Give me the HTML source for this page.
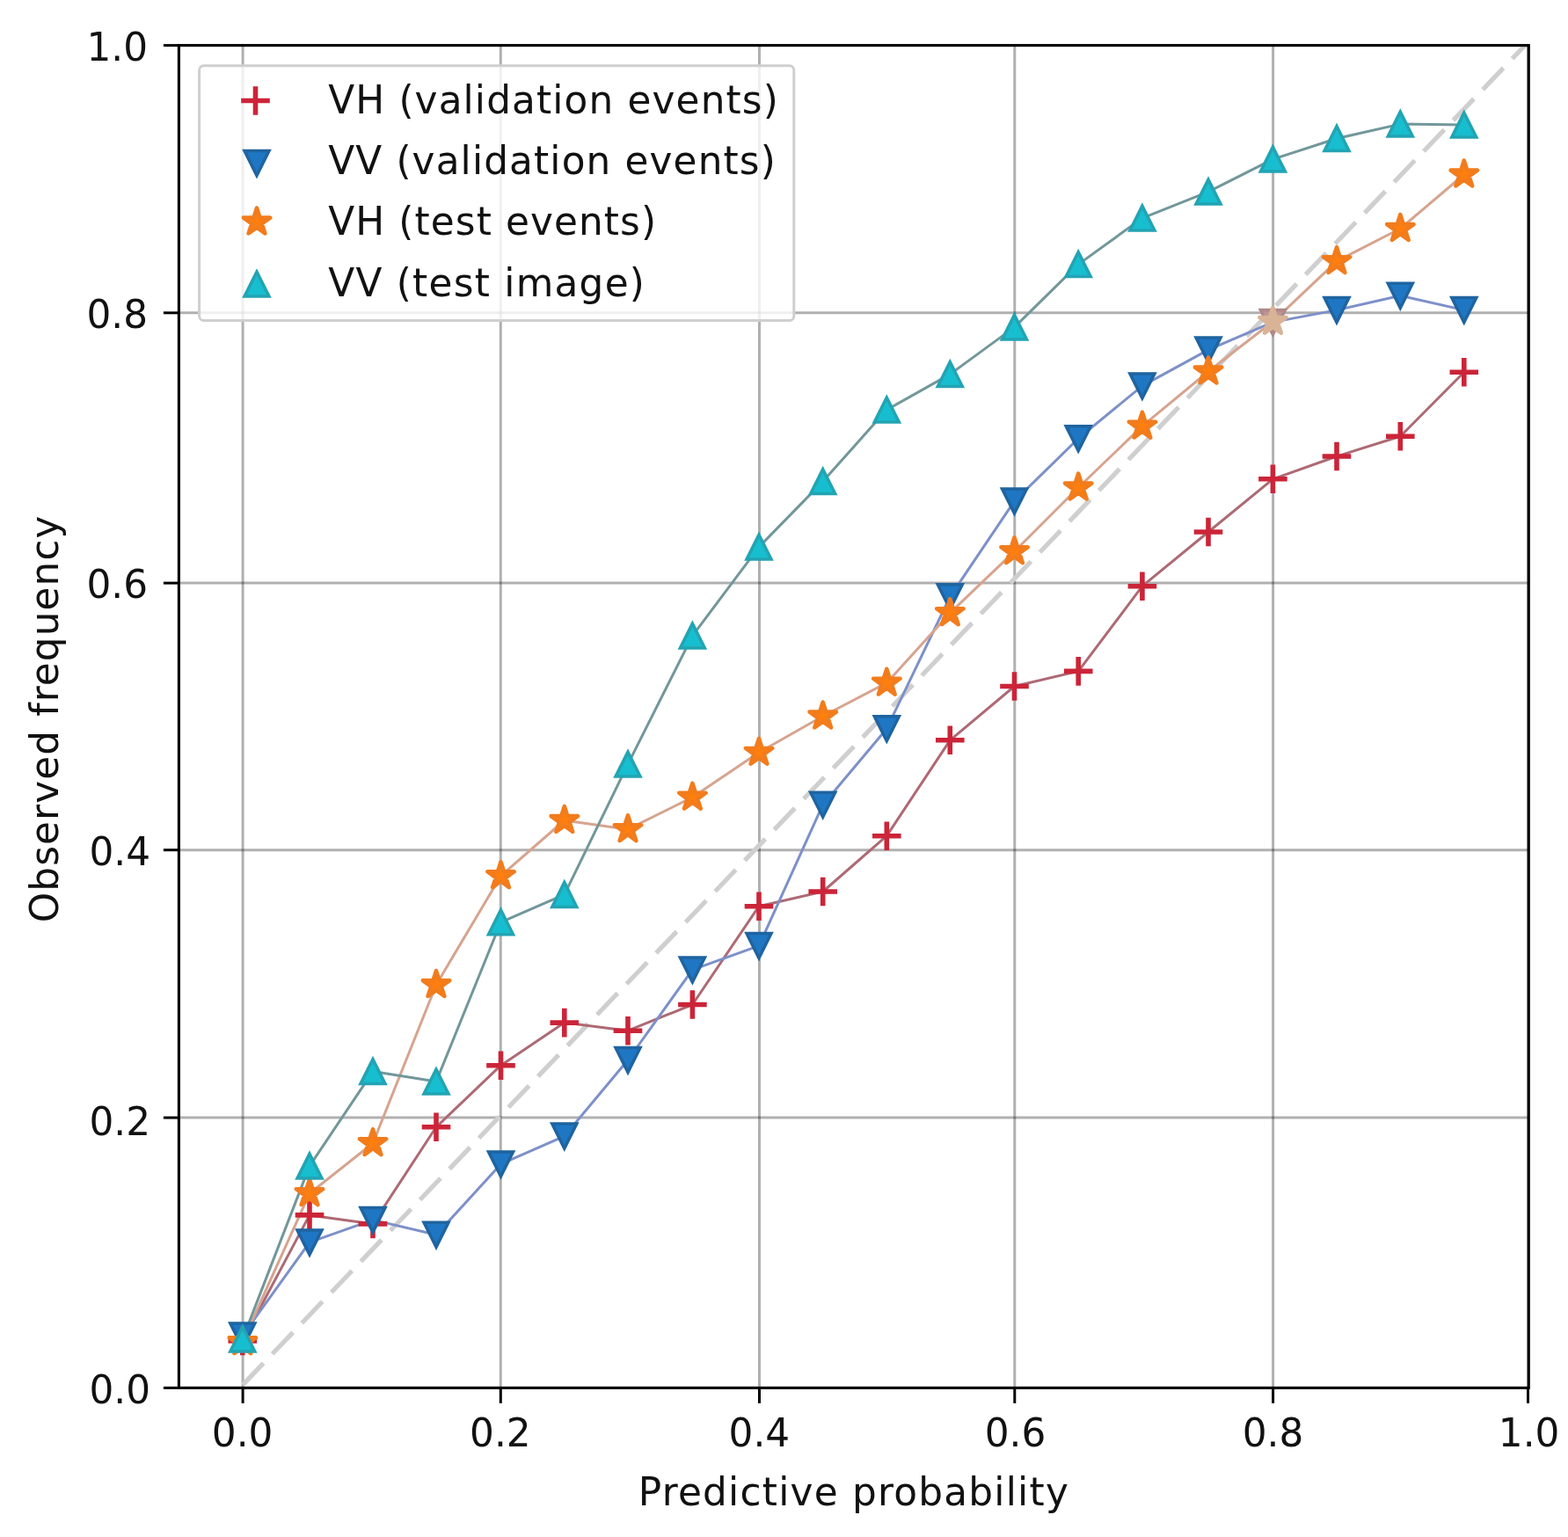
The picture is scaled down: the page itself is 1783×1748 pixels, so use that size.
<!DOCTYPE html>
<html><head><meta charset="utf-8"><title>Calibration plot</title>
<style>
html,body{margin:0;padding:0;background:#fff;}
svg{display:block;}
text{font-family:"DejaVu Sans","Liberation Sans",sans-serif;fill:#111;}
</style></head><body>
<svg width="1783" height="1748" viewBox="0 0 1783 1748">
<rect x="0" y="0" width="1783" height="1748" fill="#fff"/>

<g stroke="#000" stroke-opacity="0.31" stroke-width="3"><line x1="276.1" y1="51.6" x2="276.1" y2="1578.4"/><line x1="569.3" y1="51.6" x2="569.3" y2="1578.4"/><line x1="863.5" y1="51.6" x2="863.5" y2="1578.4"/><line x1="1153.8" y1="51.6" x2="1153.8" y2="1578.4"/><line x1="1447.6" y1="51.6" x2="1447.6" y2="1578.4"/><line x1="1737.5" y1="51.6" x2="1737.5" y2="1578.4"/><line x1="203.4" y1="1578.4" x2="1738.3" y2="1578.4"/><line x1="203.4" y1="1271.1" x2="1738.3" y2="1271.1"/><line x1="203.4" y1="966.7" x2="1738.3" y2="966.7"/><line x1="203.4" y1="663.1" x2="1738.3" y2="663.1"/><line x1="203.4" y1="355.8" x2="1738.3" y2="355.8"/><line x1="203.4" y1="51.6" x2="1738.3" y2="51.6"/></g>
<defs><clipPath id="ax"><rect x="203.4" y="51.6" width="1534.9" height="1526.8"/></clipPath></defs>
<line clip-path="url(#ax)" x1="276.1" y1="1574.9" x2="1737.5" y2="48.1" stroke="#cfcfcf" stroke-width="5.2" stroke-dasharray="33.9 14.65"/>
<polyline points="275.8,1525.0 352.0,1381.9 424.0,1391.9 496.0,1281.8 569.5,1211.7 641.8,1163.1 714.0,1172.2 787.4,1142.5 863.0,1030.7 935.7,1014.0 1008.3,950.7 1080.3,841.8 1153.5,780.5 1226.2,763.4 1298.9,666.7 1374.0,605.0 1447.4,544.8 1520.0,519.0 1592.3,496.2 1664.8,423.2" fill="none" stroke="#ad6a74" stroke-width="3.0" stroke-linejoin="round" stroke-linecap="round"/>
<polyline points="275.8,1518.9 352.0,1412.9 424.0,1387.4 496.0,1404.3 569.5,1323.9 641.8,1292.1 714.0,1205.5 787.4,1102.9 863.0,1075.6 935.7,915.2 1008.3,828.7 1080.3,678.7 1153.5,569.9 1226.2,498.7 1298.9,438.9 1374.0,397.9 1447.4,366.4 1520.0,352.6 1592.3,336.3 1664.8,352.6" fill="none" stroke="#7d90c8" stroke-width="3.0" stroke-linejoin="round" stroke-linecap="round"/>
<polyline points="275.8,1526.2 352.0,1357.2 424.0,1300.2 496.0,1120.0 569.5,996.2 641.8,933.0 714.0,943.2 787.4,906.7 863.0,855.8 935.7,814.5 1008.3,776.7 1080.3,697.2 1153.5,627.2 1226.2,554.5 1298.9,484.7 1374.0,422.5 1447.4,365.8 1520.0,297.1 1592.3,260.0 1664.8,198.5" fill="none" stroke="#d6a48f" stroke-width="3.0" stroke-linejoin="round" stroke-linecap="round"/>
<polyline points="275.8,1523.1 352.0,1326.1 424.0,1218.6 496.0,1230.1 569.5,1048.8 641.8,1017.4 714.0,869.1 787.4,723.1 863.0,622.1 935.7,547.6 1008.3,466.1 1080.3,425.6 1153.5,372.1 1226.2,300.6 1298.9,248.1 1374.0,218.1 1447.4,181.1 1520.0,157.5 1592.3,141.1 1664.8,142.1" fill="none" stroke="#72979a" stroke-width="3.0" stroke-linejoin="round" stroke-linecap="round"/>
<path d="M259.5,1525.0H292.1M275.8,1508.7V1541.3M335.7,1381.9H368.3M352.0,1365.6V1398.2M407.7,1391.9H440.3M424.0,1375.6V1408.2M479.7,1281.8H512.3M496.0,1265.5V1298.1M553.2,1211.7H585.8M569.5,1195.4V1228.0M625.5,1163.1H658.1M641.8,1146.8V1179.4M697.7,1172.2H730.3M714.0,1155.9V1188.5M771.1,1142.5H803.7M787.4,1126.2V1158.8M846.7,1030.7H879.3M863.0,1014.4V1047.0M919.4,1014.0H952.0M935.7,997.7V1030.3M992.0,950.7H1024.6M1008.3,934.4V967.0M1064.0,841.8H1096.6M1080.3,825.5V858.1M1137.2,780.5H1169.8M1153.5,764.2V796.8M1209.9,763.4H1242.5M1226.2,747.1V779.7M1282.6,666.7H1315.2M1298.9,650.4V683.0M1357.7,605.0H1390.3M1374.0,588.7V621.3M1431.1,544.8H1463.7M1447.4,528.5V561.1M1503.7,519.0H1536.3M1520.0,502.7V535.3M1576.0,496.2H1608.6M1592.3,479.9V512.5M1648.5,423.2H1681.1M1664.8,406.9V439.5" fill="none" stroke="#cc2438" stroke-width="5.6"/>
<path d="M275.8,1532.9L261.8,1504.9L289.8,1504.9ZM352.0,1426.9L338.0,1398.9L366.0,1398.9ZM424.0,1401.4L410.0,1373.4L438.0,1373.4ZM496.0,1418.3L482.0,1390.3L510.0,1390.3ZM569.5,1337.9L555.5,1309.9L583.5,1309.9ZM641.8,1306.1L627.8,1278.1L655.8,1278.1ZM714.0,1219.5L700.0,1191.5L728.0,1191.5ZM787.4,1116.9L773.4,1088.9L801.4,1088.9ZM863.0,1089.6L849.0,1061.6L877.0,1061.6ZM935.7,929.2L921.7,901.2L949.7,901.2ZM1008.3,842.7L994.3,814.7L1022.3,814.7ZM1080.3,692.7L1066.3,664.7L1094.3,664.7ZM1153.5,583.9L1139.5,555.9L1167.5,555.9ZM1226.2,512.7L1212.2,484.7L1240.2,484.7ZM1298.9,452.9L1284.9,424.9L1312.9,424.9ZM1374.0,411.9L1360.0,383.9L1388.0,383.9ZM1520.0,366.6L1506.0,338.6L1534.0,338.6ZM1592.3,350.3L1578.3,322.3L1606.3,322.3ZM1664.8,366.6L1650.8,338.6L1678.8,338.6Z" fill="#1f77c4" stroke="#1f64a0" stroke-width="3.5" stroke-linejoin="miter"/>
<path d="M1447.4,380.4L1433.4,352.4L1461.4,352.4Z" fill="#bf9698" stroke="#b08888" stroke-width="3.5" stroke-linejoin="miter"/>
<path d="M275.8,1510.2L272.2,1521.3L260.6,1521.3L270.0,1528.1L266.4,1539.1L275.8,1532.3L285.2,1539.1L281.6,1528.1L291.0,1521.3L279.4,1521.3ZM352.0,1341.2L348.4,1352.3L336.8,1352.3L346.2,1359.1L342.6,1370.1L352.0,1363.3L361.4,1370.1L357.8,1359.1L367.2,1352.3L355.6,1352.3ZM424.0,1284.2L420.4,1295.3L408.8,1295.3L418.2,1302.1L414.6,1313.1L424.0,1306.3L433.4,1313.1L429.8,1302.1L439.2,1295.3L427.6,1295.3ZM496.0,1104.0L492.4,1115.1L480.8,1115.1L490.2,1121.9L486.6,1132.9L496.0,1126.1L505.4,1132.9L501.8,1121.9L511.2,1115.1L499.6,1115.1ZM569.5,980.2L565.9,991.3L554.3,991.3L563.7,998.1L560.1,1009.1L569.5,1002.3L578.9,1009.1L575.3,998.1L584.7,991.3L573.1,991.3ZM641.8,917.0L638.2,928.1L626.6,928.1L636.0,934.9L632.4,945.9L641.8,939.1L651.2,945.9L647.6,934.9L657.0,928.1L645.4,928.1ZM714.0,927.2L710.4,938.3L698.8,938.3L708.2,945.1L704.6,956.1L714.0,949.3L723.4,956.1L719.8,945.1L729.2,938.3L717.6,938.3ZM787.4,890.7L783.8,901.8L772.2,901.8L781.6,908.6L778.0,919.6L787.4,912.8L796.8,919.6L793.2,908.6L802.6,901.8L791.0,901.8ZM863.0,839.8L859.4,850.9L847.8,850.9L857.2,857.7L853.6,868.7L863.0,861.9L872.4,868.7L868.8,857.7L878.2,850.9L866.6,850.9ZM935.7,798.5L932.1,809.6L920.5,809.6L929.9,816.4L926.3,827.4L935.7,820.6L945.1,827.4L941.5,816.4L950.9,809.6L939.3,809.6ZM1008.3,760.7L1004.7,771.8L993.1,771.8L1002.5,778.6L998.9,789.6L1008.3,782.8L1017.7,789.6L1014.1,778.6L1023.5,771.8L1011.9,771.8ZM1080.3,681.2L1076.7,692.3L1065.1,692.3L1074.5,699.1L1070.9,710.1L1080.3,703.3L1089.7,710.1L1086.1,699.1L1095.5,692.3L1083.9,692.3ZM1153.5,611.2L1149.9,622.3L1138.3,622.3L1147.7,629.1L1144.1,640.1L1153.5,633.3L1162.9,640.1L1159.3,629.1L1168.7,622.3L1157.1,622.3ZM1226.2,538.5L1222.6,549.6L1211.0,549.6L1220.4,556.4L1216.8,567.4L1226.2,560.6L1235.6,567.4L1232.0,556.4L1241.4,549.6L1229.8,549.6ZM1298.9,468.7L1295.3,479.8L1283.7,479.8L1293.1,486.6L1289.5,497.6L1298.9,490.8L1308.3,497.6L1304.7,486.6L1314.1,479.8L1302.5,479.8ZM1374.0,406.5L1370.4,417.6L1358.8,417.6L1368.2,424.4L1364.6,435.4L1374.0,428.6L1383.4,435.4L1379.8,424.4L1389.2,417.6L1377.6,417.6ZM1520.0,281.1L1516.4,292.2L1504.8,292.2L1514.2,299.0L1510.6,310.0L1520.0,303.2L1529.4,310.0L1525.8,299.0L1535.2,292.2L1523.6,292.2ZM1592.3,244.0L1588.7,255.1L1577.1,255.1L1586.5,261.9L1582.9,272.9L1592.3,266.1L1601.7,272.9L1598.1,261.9L1607.5,255.1L1595.9,255.1ZM1664.8,182.5L1661.2,193.6L1649.6,193.6L1659.0,200.4L1655.4,211.4L1664.8,204.6L1674.2,211.4L1670.6,200.4L1680.0,193.6L1668.4,193.6Z" fill="#ff7f0e" stroke="#f27c1c" stroke-width="4.5" stroke-linejoin="round"/>
<path d="M1447.4,349.8L1443.8,360.9L1432.2,360.9L1441.6,367.7L1438.0,378.7L1447.4,371.9L1456.8,378.7L1453.2,367.7L1462.6,360.9L1451.0,360.9Z" fill="#d9b396" stroke="#d9b396" stroke-width="4.5" stroke-linejoin="round"/>
<path d="M275.8,1509.1L261.8,1537.1L289.8,1537.1ZM352.0,1312.1L338.0,1340.1L366.0,1340.1ZM424.0,1204.6L410.0,1232.6L438.0,1232.6ZM496.0,1216.1L482.0,1244.1L510.0,1244.1ZM569.5,1034.8L555.5,1062.8L583.5,1062.8ZM641.8,1003.4L627.8,1031.4L655.8,1031.4ZM714.0,855.1L700.0,883.1L728.0,883.1ZM787.4,709.1L773.4,737.1L801.4,737.1ZM863.0,608.1L849.0,636.1L877.0,636.1ZM935.7,533.6L921.7,561.6L949.7,561.6ZM1008.3,452.1L994.3,480.1L1022.3,480.1ZM1080.3,411.6L1066.3,439.6L1094.3,439.6ZM1153.5,358.1L1139.5,386.1L1167.5,386.1ZM1226.2,286.6L1212.2,314.6L1240.2,314.6ZM1298.9,234.1L1284.9,262.1L1312.9,262.1ZM1374.0,204.1L1360.0,232.1L1388.0,232.1ZM1447.4,167.1L1433.4,195.1L1461.4,195.1ZM1520.0,143.5L1506.0,171.5L1534.0,171.5ZM1592.3,127.1L1578.3,155.1L1606.3,155.1ZM1664.8,128.1L1650.8,156.1L1678.8,156.1Z" fill="#17becf" stroke="#22a4b3" stroke-width="3.5" stroke-linejoin="miter"/>
<rect x="226.6" y="74.8" width="676.2" height="289.6" rx="5" ry="5" fill="#fff" fill-opacity="0.8" stroke="#cfcfcf" stroke-width="3"/>
<path d="M274.2,114.5H306.8M290.5,98.2V130.8" fill="none" stroke="#cc2438" stroke-width="5.6"/>
<path d="M292.0,199.6L278.0,171.6L306.0,171.6Z" fill="#1f77c4" stroke="#1f64a0" stroke-width="3.5"/>
<path d="M292.0,236.5L288.4,247.6L276.8,247.6L286.2,254.4L282.6,265.4L292.0,258.6L301.4,265.4L297.8,254.4L307.2,247.6L295.6,247.6Z" fill="#ff7f0e" stroke="#f27c1c" stroke-width="4.5" stroke-linejoin="round"/>
<path d="M292.0,309.1L278.0,337.1L306.0,337.1Z" fill="#17becf" stroke="#22a4b3" stroke-width="3.5"/>
<text x="373.2" y="128.7" font-size="43.75" textLength="511.6" lengthAdjust="spacing">VH (validation events)</text>
<text x="373.2" y="198.4" font-size="43.75" textLength="508.6" lengthAdjust="spacing">VV (validation events)</text>
<text x="373.2" y="267.1" font-size="43.75" textLength="372.9" lengthAdjust="spacing">VH (test events)</text>
<text x="373.2" y="336.8" font-size="43.75" textLength="359.7" lengthAdjust="spacing">VV (test image)</text>
<rect x="203.4" y="51.6" width="1534.9" height="1526.8" fill="none" stroke="#000" stroke-width="3.1"/>
<g stroke="#000" stroke-width="3"><line x1="276.1" y1="1578.4" x2="276.1" y2="1595.9"/><line x1="569.3" y1="1578.4" x2="569.3" y2="1595.9"/><line x1="863.5" y1="1578.4" x2="863.5" y2="1595.9"/><line x1="1153.8" y1="1578.4" x2="1153.8" y2="1595.9"/><line x1="1447.6" y1="1578.4" x2="1447.6" y2="1595.9"/><line x1="1737.5" y1="1578.4" x2="1737.5" y2="1595.9"/><line x1="203.4" y1="1578.4" x2="185.9" y2="1578.4"/><line x1="203.4" y1="1271.1" x2="185.9" y2="1271.1"/><line x1="203.4" y1="966.7" x2="185.9" y2="966.7"/><line x1="203.4" y1="663.1" x2="185.9" y2="663.1"/><line x1="203.4" y1="355.8" x2="185.9" y2="355.8"/><line x1="203.4" y1="51.6" x2="185.9" y2="51.6"/></g>
<text x="171" y="1595.5" font-size="43.75" text-anchor="end">0.0</text>
<text x="171" y="1291.4" font-size="43.75" text-anchor="end">0.2</text>
<text x="171" y="984.2" font-size="43.75" text-anchor="end">0.4</text>
<text x="168" y="680.1" font-size="43.75" text-anchor="end">0.6</text>
<text x="168" y="372.8" font-size="43.75" text-anchor="end">0.8</text>
<text x="168" y="68.9" font-size="43.75" text-anchor="end">1.0</text>
<text x="275.6" y="1644.7" font-size="43.75" text-anchor="middle">0.0</text>
<text x="568.9" y="1644.7" font-size="43.75" text-anchor="middle">0.2</text>
<text x="863.4" y="1644.7" font-size="43.75" text-anchor="middle">0.4</text>
<text x="1154.5" y="1644.7" font-size="43.75" text-anchor="middle">0.6</text>
<text x="1447.5" y="1644.7" font-size="43.75" text-anchor="middle">0.8</text>
<text x="1738.6" y="1644.7" font-size="43.75" text-anchor="middle">1.0</text>
<text x="970.3" y="1711.5" font-size="43.75" text-anchor="middle" textLength="489" lengthAdjust="spacing">Predictive probability</text>
<text transform="translate(65.8,817.9) rotate(-90)" x="0" y="0" font-size="43.75" text-anchor="middle" textLength="462.8" lengthAdjust="spacing">Observed frequency</text>
</svg>
</body></html>
